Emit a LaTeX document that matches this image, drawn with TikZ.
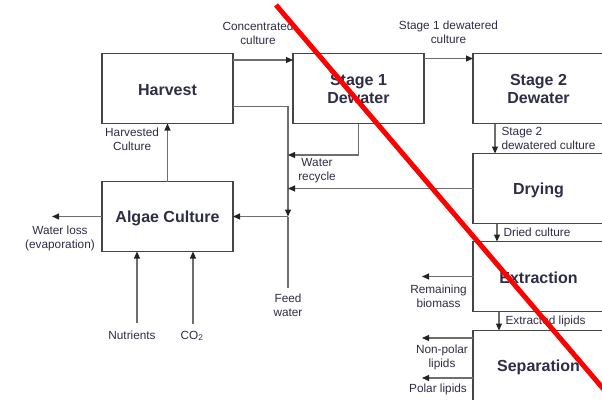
\documentclass[tikz,border=0pt]{standalone}
\usepackage{fontspec}
\setmainfont{Liberation Sans}
\usepackage{tikz}
\usetikzlibrary{arrows.meta, positioning}
\definecolor{boxgray}{RGB}{70,70,70}
\definecolor{linegray}{RGB}{110,110,110}
\definecolor{tipgray}{RGB}{35,35,35}
\definecolor{labelnavy}{RGB}{45,45,70}
\definecolor{strikered}{RGB}{255,0,0}
\tikzset{
  block/.style={rectangle, draw=boxgray, line width=1.6pt, outer sep=0pt,
    minimum width=131pt, minimum height=70pt, align=center, text=labelnavy,
    font=\fontsize{16}{18}\selectfont\bfseries,
    execute at begin node={\rule{0pt}{15pt}}},
  arrow/.style={-{Triangle[length=7pt, width=6pt, color=tipgray]},
    line width=1.1pt, color=linegray},
  flowline/.style={line width=1.1pt, color=linegray},
  flowlabel/.style={font=\fontsize{11.8}{14}\selectfont, text=labelnavy,
    align=center, inner sep=1pt},
  strike/.style={line width=5pt, color=strikered},
}
\begin{document}
\begin{tikzpicture}[x=1pt, y=-1pt]
  \useasboundingbox (0,0) rectangle (602,399);
  \clip (0,0) rectangle (602,399);

  % Process blocks
  \node[block] (harvest) at (167.5,88.5) {Harvest};
  \node[block, right=60pt of harvest] (stageone) {Stage 1\\Dewater};
  \node[block, right=49pt of stageone] (stagetwo) {Stage 2\\Dewater};
  \node[block, below=30pt of stagetwo] (drying) {Drying};
  \node[block, below=18pt of drying] (extraction) {Extraction};
  \node[block, below=19pt of extraction] (separation) {Separation};
  \node[block, below=58pt of harvest] (algae) {Algae Culture};

  % Free ends
  \coordinate (mix) at (288,216.5);
  \coordinate (feed) at (288,288);
  \coordinate (recycletop) at (288,155);
  \coordinate (recyclemid) at (288,188.5);
  \coordinate (lossend) at (52,216.5);
  \coordinate (biomassend) at (422,276.5);
  \coordinate (nonpolarend) at (422,338);
  \coordinate (polarend) at (422,378);
  \coordinate (strikestart) at (276,5);
  \coordinate (strikeend) at (606,392);

  % Main flow
  \draw[arrow] ([yshift=-6.5pt]harvest.north east) -- node[above=14pt, xshift=-5pt, flowlabel]
    (concl) {Concentrated\\culture} ([yshift=-6.5pt]stageone.north west);
  \draw[arrow] ([yshift=-5pt]stageone.north east) -- node[above=13pt, flowlabel]
    (stageonel) {Stage 1 dewatered\\culture} ([yshift=-5pt]stagetwo.north west);
  \draw[arrow] (algae.north) -- node[pos=0.72, left=7pt, flowlabel]
    (harvestl) {Harvested\\Culture} (harvest.south);

  % Water loop
  \draw[arrow] ([yshift=17pt]harvest.south east) -| (mix);
  \draw[arrow] (stageone.south) |- (recycletop);
  \draw[arrow] (drying.west) -- (recyclemid);
  \node[flowlabel] (recyclel) at (317,170.5) {Water\\recycle};
  \draw[flowline] (feed) -- (mix);
  \node[flowlabel, below=5pt of feed] (feedl) {Feed\\water};
  \draw[arrow] (mix) -- (algae.east);

  % Inputs and losses
  \draw[arrow] (algae.west) -- (lossend);
  \node[flowlabel] (lossl) at (60,238.5) {Water loss\\(evaporation)};
  \node[flowlabel, anchor=base] (nutrients) at (132,339) {Nutrients};
  \node[flowlabel, anchor=base] (co2) at (192,339) {CO\textsubscript{2}};
  \draw[arrow] ([xshift=5pt, yshift=6pt]nutrients.north) -- ([xshift=5pt]nutrients.north |- algae.south);
  \draw[arrow] ([xshift=1pt, yshift=6pt]co2.north) -- ([xshift=1pt]co2.north |- algae.south);

  % Downstream processing
  \draw[arrow] ([xshift=22pt]stagetwo.south west) -- node[right=5pt, flowlabel, align=left]
    (stagetwol) {Stage 2\\dewatered culture} ([xshift=22pt]drying.north west);
  \draw[arrow] ([xshift=24pt]drying.south west) -- node[right=5pt, flowlabel]
    (driedl) {Dried culture} ([xshift=24pt]extraction.north west);
  \draw[arrow] ([xshift=26pt]extraction.south west) -- node[right=5pt, flowlabel]
    (extractedl) {Extracted lipids} ([xshift=26pt]separation.north west);
  \draw[arrow] (extraction.west) -- (biomassend);
  \node[flowlabel] (biomassl) at (438.5,296.5) {Remaining\\biomass};
  \draw[arrow] ([yshift=-7.5pt]separation.north west) -- (nonpolarend);
  \node[flowlabel] (nonpolarl) at (442,357.5) {Non-polar\\lipids};
  \draw[arrow] ([yshift=-47.5pt]separation.north west) -- (polarend);
  \node[flowlabel] (polarl) at (438,389) {Polar lipids};

  % Strike-through
  \draw[strike] (strikestart) -- (strikeend);
\end{tikzpicture}
\end{document}
